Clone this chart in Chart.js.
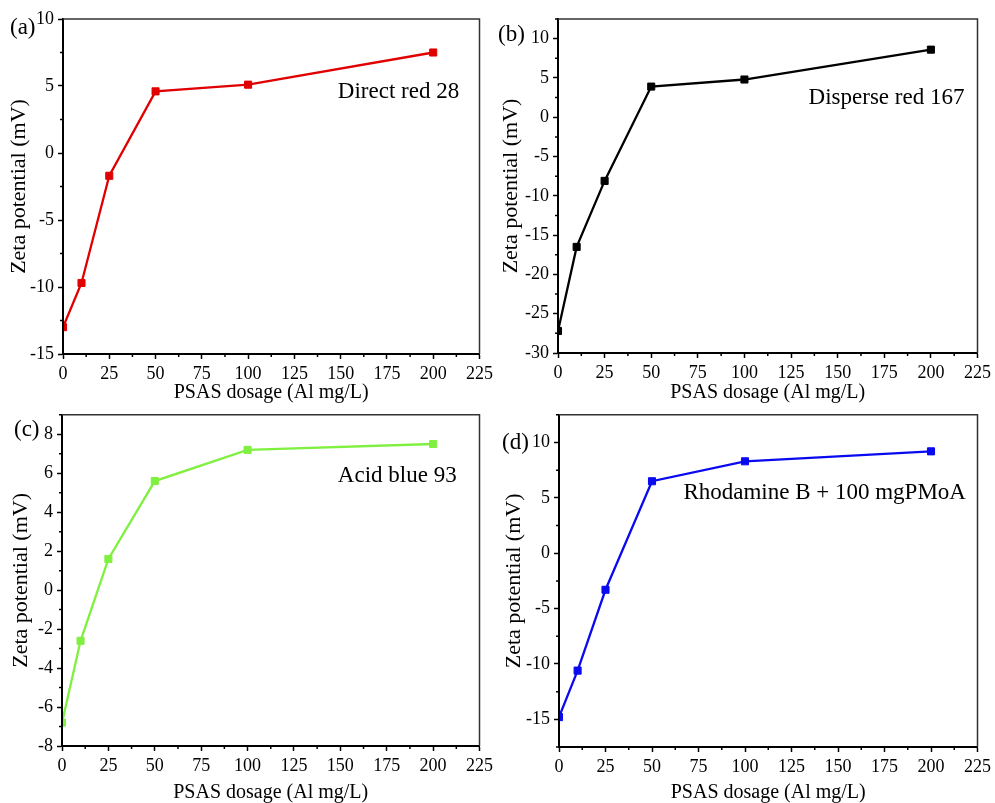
<!DOCTYPE html>
<html>
<head>
<meta charset="utf-8">
<script src="https://cdn.jsdelivr.net/npm/chart.js@4.4.0/dist/chart.umd.min.js"></script>
<style>
html, body { margin: 0; padding: 0; background: #fff; overflow: hidden; width: 995px; height: 803px; }
canvas { position: absolute; }
</style>
</head>
<body>
<canvas id="chartA" width="497" height="415" style="left:0;top:0"></canvas>
<canvas id="chartB" width="498" height="415" style="left:497px;top:0"></canvas>
<canvas id="chartC" width="497" height="415" style="left:0;top:400px"></canvas>
<canvas id="chartD" width="498" height="415" style="left:497px;top:400px"></canvas>
<script>
// PSAS dosage (Al mg/L)
const DOSAGE = [0, 10, 25, 50, 100, 200];

// Zeta potential (mV) for each dye
const ZETA_DIRECT_RED = [-13.0, -9.7, -1.7, 4.6, 5.1, 7.5];
const ZETA_DISPERSE_RED = [-27.2, -16.5, -8.1, 3.9, 4.8, 8.6];
const ZETA_ACID_BLUE = [-6.8, -2.6, 1.6, 5.6, 7.2, 7.5];
const ZETA_RHODAMINE = [-14.8, -10.6, -3.3, 6.5, 8.3, 9.2];

// Tick labels
const X_TICKS = [0, 25, 50, 75, 100, 125, 150, 175, 200, 225];
const Y_TICKS_A = [-15, -10, -5, 0, 5, 10];
const Y_TICKS_B = [-30, -25, -20, -15, -10, -5, 0, 5, 10];
const Y_TICKS_C = [-8, -6, -4, -2, 0, 2, 4, 6, 8];
const Y_TICKS_D = [-15, -10, -5, 0, 5, 10];

const FONT = '"Liberation Serif", "Times New Roman", serif';

const panels = [
    { id: 'chartA', tag: '(a)', label: 'Direct red 28', values: ZETA_DIRECT_RED, color: '#e00000',
      yTicks: Y_TICKS_A, yMin: -15, yMax: 10, yMinor: 2.5,
      area: { left: 63, right: 15, top: 19, xHeight: 61 }, yTitlePad: 6,
      tagPos: [10, 34], labelAt: [214, 4.13] },
    { id: 'chartB', tag: '(b)', label: 'Disperse red 167', values: ZETA_DISPERSE_RED, color: '#000000',
      yTicks: Y_TICKS_B, yMin: -30, yMax: 12.5, yMinor: 2.5,
      area: { left: 61, right: 17, top: 19, xHeight: 62 }, yTitlePad: 0.6,
      tagPos: [1, 41], labelAt: [218, 1.65] },
    { id: 'chartC', tag: '(c)', label: 'Acid blue 93', values: ZETA_ACID_BLUE, color: '#80f040',
      yTicks: Y_TICKS_C, yMin: -8, yMax: 9, yMinor: 1,
      area: { left: 62, right: 15, top: 13, xHeight: 69 }, yTitlePad: 7.6,
      tagPos: [14, 36], labelAt: [212.7, 5.54] },
    { id: 'chartD', tag: '(d)', label: 'Rhodamine B + 100 mgPMoA', values: ZETA_RHODAMINE, color: '#0a0af0',
      yTicks: Y_TICKS_D, yMin: -17.5, yMax: 12.5, yMinor: 2.5,
      area: { left: 62, right: 13, top: 13, xHeight: 68 }, yTitlePad: 4,
      tagPos: [5, 49], labelAt: [218.8, 4.92] }
];

// Frame, minor ticks, panel tag and dye label
const decorations = {
    id: 'decorations',
    afterDraw(chart, args, opts) {
        const p = opts.panel;
        const { ctx, chartArea: a } = chart;
        const x = chart.scales.x, y = chart.scales.y;
        ctx.save();

        ctx.strokeStyle = '#333';
        ctx.lineWidth = 1.5;
        ctx.beginPath();
        ctx.moveTo(a.left, a.top);
        ctx.lineTo(a.right, a.top);
        ctx.lineTo(a.right, a.bottom);
        ctx.stroke();

        ctx.strokeStyle = '#000';
        ctx.lineWidth = 1.5;
        ctx.beginPath();
        for (let v = 12.5; v < 225; v += 25) {
            const px = x.getPixelForValue(v);
            ctx.moveTo(px, a.bottom);
            ctx.lineTo(px, a.bottom + 3);
        }
        for (let v = p.yMin; v <= p.yMax + 1e-9; v += p.yMinor) {
            if (p.yTicks.some(t => Math.abs(t - v) < 1e-9)) continue;
            const py = y.getPixelForValue(v);
            ctx.moveTo(a.left - 3, py);
            ctx.lineTo(a.left, py);
        }
        ctx.stroke();

        ctx.fillStyle = '#000';
        ctx.font = '23px ' + FONT;
        ctx.textBaseline = 'alphabetic';
        ctx.textAlign = 'left';
        ctx.fillText(p.tag, p.tagPos[0], p.tagPos[1]);

        ctx.textAlign = 'right';
        ctx.fillText(p.label, x.getPixelForValue(p.labelAt[0]), y.getPixelForValue(p.labelAt[1]));
        ctx.restore();
    }
};

function buildChart(p) {
    const ctx = document.getElementById(p.id).getContext('2d');
    return new Chart(ctx, {
        type: 'line',
        data: {
            datasets: [{
                data: DOSAGE.map((d, i) => ({ x: d, y: p.values[i] })),
                borderColor: p.color,
                backgroundColor: p.color,
                borderWidth: 2.3,
                pointStyle: 'rect',
                pointRadius: 5,
                pointBorderWidth: 1,
                pointBorderColor: p.color,
                pointBackgroundColor: p.color,
                tension: 0,
                clip: 0
            }]
        },
        options: {
            responsive: false,
            animation: false,
            events: [],
            layout: { padding: { left: 0, right: p.area.right, top: p.area.top, bottom: 0 } },
            plugins: {
                legend: { display: false },
                tooltip: { enabled: false },
                decorations: { panel: p }
            },
            scales: {
                x: {
                    type: 'linear',
                    min: 0,
                    max: 225,
                    afterBuildTicks: scale => { scale.ticks = X_TICKS.map(v => ({ value: v })); },
                    afterFit: scale => { scale.height = p.area.xHeight; },
                    grid: { drawOnChartArea: false, drawTicks: true, tickLength: 5, tickWidth: 1.5, tickColor: '#000' },
                    border: { display: true, color: '#000', width: 2, z: 1 },
                    ticks: { color: '#000', padding: 4, autoSkip: false, maxRotation: 0,
                             font: { family: FONT, size: 18 } },
                    title: { display: true, text: 'PSAS dosage (Al mg/L)', color: '#000',
                             font: { family: FONT, size: 20 }, padding: { top: 0, bottom: 10 } }
                },
                y: {
                    type: 'linear',
                    min: p.yMin,
                    max: p.yMax,
                    afterBuildTicks: scale => { scale.ticks = p.yTicks.map(v => ({ value: v })); },
                    afterFit: scale => { scale.width = p.area.left; },
                    grid: { drawOnChartArea: false, drawTicks: true, tickLength: 5, tickWidth: 1.5, tickColor: '#000' },
                    border: { display: true, color: '#000', width: 2, z: 1 },
                    ticks: { color: '#000', padding: 4, font: { family: FONT, size: 18 } },
                    title: { display: true, text: 'Zeta potential (mV)', color: '#000',
                             font: { family: FONT, size: 22 }, padding: { top: p.yTitlePad, bottom: 0 } }
                }
            }
        },
        plugins: [decorations]
    });
}

panels.forEach(buildChart);
</script>
</body>
</html>
